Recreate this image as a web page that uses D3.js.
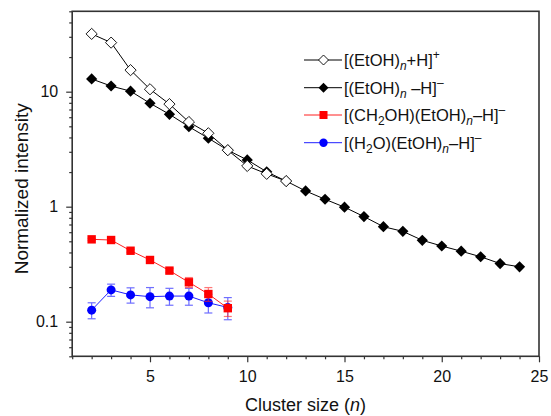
<!DOCTYPE html>
<html><head><meta charset="utf-8">
<script src="https://cdn.jsdelivr.net/npm/d3@7"></script>
<style>body{margin:0;background:#fff}svg{display:block}text{font-family:"Liberation Sans",Arial,sans-serif}</style>
</head><body><svg id="c" width="551" height="416"></svg>
<script>
// Data
const nProt = [2,3,4,5,6,7,8,9,10,11,12];
const vProt = [31.8,26.7,15.4,10.5,7.8,5.45,4.35,3.1,2.26,1.93,1.67];
const nDep = [2,3,4,5,6,7,8,9,10,11,12,13,14,15,16,17,18,19,20,21,22,23,24];
const vDep = [12.9,11.2,10.1,7.93,6.36,4.96,3.94,3.1,2.55,2.01,1.67,1.37,1.16,0.99,0.82,0.67,0.61,0.51,0.455,0.41,0.367,0.32,0.30];
const nCH2 = [2,3,4,5,6,7,8,9];
const vCH2 = [0.52,0.513,0.414,0.344,0.278,0.22,0.174,0.131];
const eCH2 = [0.01,0.01,0.012,0.01,0.012,0.022,0.024,0.02];
const nH2O = [2,3,4,5,6,7,8,9];
const vH2O = [0.126,0.189,0.171,0.165,0.167,0.167,0.146,0.133];
const eH2O = [0.02,0.023,0.026,0.033,0.028,0.028,0.027,0.029];
const xTicks = [5,10,15,20,25];
const yTicks = [0.1,1,10];
const yTickLabels = ["0.1","1","10"];

const svg = d3.select("#c");
const x = d3.scaleLinear().domain([1,25]).range([72.2,539]);
const y = d3.scaleLog().domain([0.05,50]).range([356.3,11.3]);
const frameCol = "#333";

// minor ticks
const xMinor = d3.range(1,26).filter(v=>v%5!==0);
const yMinor = [];
[0.01,0.1,1,10].forEach(d=>{for(let k=2;k<=9;k++){const v=d*k; if(v>=0.05&&v<=50) yMinor.push(v);}});

const gx = svg.append("g").attr("transform",`translate(0,${y.range()[0]})`);
gx.call(d3.axisBottom(x).tickValues(xMinor).tickSize(3).tickFormat(""));
gx.append("g").call(d3.axisBottom(x).tickValues(xTicks).tickSize(6).tickPadding(8).tickFormat(d3.format("d")));
const gy = svg.append("g").attr("transform",`translate(${x.range()[0]},0)`);
gy.call(d3.axisLeft(y).tickValues(yMinor).tickSize(3).tickFormat(""));
gy.append("g").call(d3.axisLeft(y).tickValues(yTicks).tickSize(6).tickPadding(8).tickFormat((d,i)=>yTickLabels[i]));
svg.selectAll(".domain").remove();
svg.selectAll(".tick line").attr("stroke",frameCol).attr("stroke-width",1.2);
svg.selectAll(".tick text").attr("fill","#111").style("font-size","16px").style("font-family","'Liberation Sans',Arial,sans-serif");

// frame
svg.append("rect").attr("x",x.range()[0]).attr("y",y.range()[1]).attr("width",x.range()[1]-x.range()[0]).attr("height",y.range()[0]-y.range()[1])
  .attr("fill","none").attr("stroke",frameCol).attr("stroke-width",1.6);

// axis titles
const xt = svg.append("text").attr("x",(x.range()[0]+x.range()[1])/2).attr("y",411).attr("text-anchor","middle").style("font-size","18px").attr("fill","#111");
xt.append("tspan").text("Cluster size (");
xt.append("tspan").attr("font-style","italic").text("n");
xt.append("tspan").text(")");
svg.append("text").attr("transform",`translate(28,${(y.range()[0]+y.range()[1])/2+5}) rotate(-90)`).attr("text-anchor","middle").style("font-size","19px").attr("fill","#111").text("Normalized intensity");

const line = d3.line();
function series(ns, vs, col){
  svg.append("path").attr("d",line(ns.map((n,i)=>[x(n),y(vs[i])]))).attr("fill","none").attr("stroke",col).attr("stroke-width",1);
}
function errbars(ns, vs, es, col){
  const g = svg.append("g").attr("stroke",col).attr("stroke-width",1.2).attr("opacity",0.6);
  ns.forEach((n,i)=>{
    const cx=x(n), y1=y(vs[i]+es[i]), y2=y(vs[i]-es[i]);
    g.append("line").attr("x1",cx).attr("x2",cx).attr("y1",y1).attr("y2",y2);
    g.append("line").attr("x1",cx-4).attr("x2",cx+4).attr("y1",y1).attr("y2",y1);
    g.append("line").attr("x1",cx-4).attr("x2",cx+4).attr("y1",y2).attr("y2",y2);
  });
}
const diamond = (cx,cy,r)=>`M${cx},${cy-r}L${cx+r},${cy}L${cx},${cy+r}L${cx-r},${cy}Z`;

// H2O series (blue)
errbars(nH2O,vH2O,eH2O,"#1010ff");
series(nH2O,vH2O,"#2020ff");
svg.append("g").selectAll("circle").data(nH2O).join("circle").attr("cx",d=>x(d)).attr("cy",(d,i)=>y(vH2O[i])).attr("r",4.5).attr("fill","#0000ff");
// CH2OH series (red)
errbars(nCH2,vCH2,eCH2,"#ff2020");
series(nCH2,vCH2,"#ff2020");
svg.append("g").selectAll("rect").data(nCH2).join("rect").attr("x",d=>x(d)-4.2).attr("y",(d,i)=>y(vCH2[i])-4.2).attr("width",8.4).attr("height",8.4).attr("fill","#ff0000");
// deprotonated (filled)
series(nDep,vDep,"#000");
svg.append("g").selectAll("path").data(nDep).join("path").attr("d",(d,i)=>diamond(x(d),y(vDep[i]),5.6)).attr("fill","#000");
// protonated (open)
series(nProt,vProt,"#000");
svg.append("g").selectAll("path").data(nProt).join("path").attr("d",(d,i)=>diamond(x(d),y(vProt[i]),5.6)).attr("fill","#fff").attr("stroke","#000").attr("stroke-width",0.9);

// legend
const legY = [60,87.7,115,142.7];
const lx1=304, lx2=342, lmx=323.5, ltx=344;
const leg = svg.append("g").style("font-size","16.5px").attr("fill","#111");
function legText(row, parts){
  const t = leg.append("text").attr("x",ltx).attr("y",legY[row]+6);
  let shift = 0;
  parts.forEach(p=>{
    const target = p.t==="sub"?4:p.t==="sup"?-7:0;
    const ts = t.append("tspan").attr("dy",target-shift).text(p.s);
    if(p.t!=="n") ts.style("font-size","12px");
    if(p.i) ts.attr("font-style","italic");
    shift = target;
  });
}
const N = (s)=>({s,t:"n"}), SUB=(s,i)=>({s,t:"sub",i}), SUP=(s)=>({s,t:"sup"});
[["#000","open"],["#000","filled"],["#ff2020","sq"],["#2020ff","circ"]].forEach(([c,m],i)=>{
  leg.append("line").attr("x1",lx1).attr("x2",lx2).attr("y1",legY[i]).attr("y2",legY[i]).attr("stroke",c).attr("stroke-width",1);
  if(m==="open") leg.append("path").attr("d",diamond(lmx,legY[i],5)).attr("fill","#fff").attr("stroke","#000").attr("stroke-width",0.9);
  if(m==="filled") leg.append("path").attr("d",diamond(lmx,legY[i],5)).attr("fill","#000");
  if(m==="sq") leg.append("rect").attr("x",lmx-4).attr("y",legY[i]-4).attr("width",8).attr("height",8).attr("fill","#ff0000");
  if(m==="circ") leg.append("circle").attr("cx",lmx).attr("cy",legY[i]).attr("r",4.2).attr("fill","#0000ff");
});
legText(0,[N("[(EtOH)"),SUB("n",true),N("+H]"),SUP("+")]);
legText(1,[N("[(EtOH)"),SUB("n",true),N(" –H]"),SUP("–")]);
legText(2,[N("[(CH"),SUB("2"),N("OH)(EtOH)"),SUB("n",true),N("–H]"),SUP("–")]);
legText(3,[N("[(H"),SUB("2"),N("O)(EtOH)"),SUB("n",true),N("–H]"),SUP("–")]);
</script></body></html>
